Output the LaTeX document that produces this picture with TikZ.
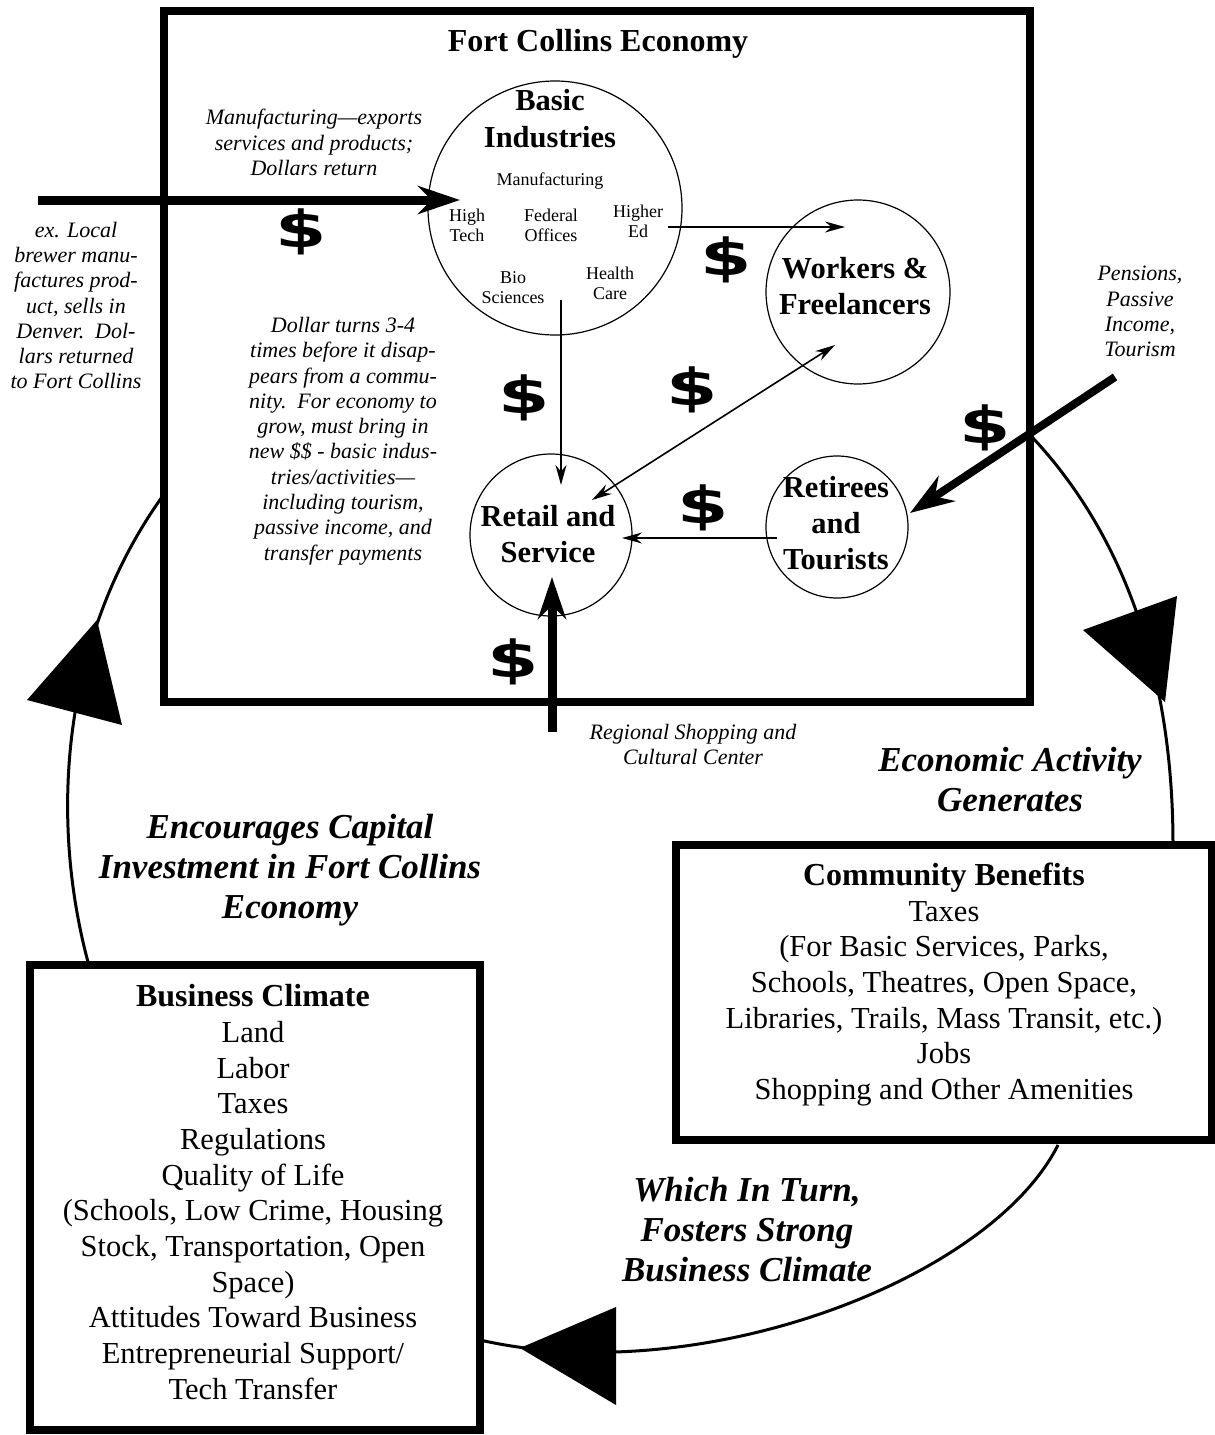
\documentclass[tikz,border=0pt]{standalone}
\usepackage{fontspec}
\setmainfont{Liberation Serif}
\newfontfamily\dollarfont{DejaVu Sans}
\usepackage{graphicx}
\usetikzlibrary{arrows.meta}
\begin{document}
\begin{tikzpicture}[x=1pt,y=-1pt,
  every node/.style={inner sep=0pt, outer sep=0pt},
  heavybox/.style={draw, line width=8pt},
  ring/.style={draw, circle, line width=1.2pt},
  ttl/.style={font=\fontsize{32}{37}\selectfont\bfseries, align=center},
  ctext/.style={font=\fontsize{30.5}{36}\selectfont\bfseries, align=center},
  itext/.style={font=\fontsize{22}{25.3}\selectfont\itshape, align=center},
  stext/.style={font=\fontsize{18}{20}\selectfont, align=center},
  btext/.style={font=\fontsize{30.5}{35.7}\selectfont, align=center},
  heading/.style={font=\fontsize{35}{40}\selectfont\bfseries\itshape, align=center},
  dollar/.style={font=\fontsize{51}{51}\selectfont\dollarfont\bfseries},
  flowarrow/.style={line width=1.6pt, -{Stealth[length=20pt,width=11pt]}},
  twoarrow/.style={line width=1.6pt, {Stealth[length=20pt,width=11pt]}-{Stealth[length=20pt,width=11pt]}},
  bigarrow/.style={line width=9pt, -{Stealth[length=42pt,width=28pt]}},
  cycleline/.style={line width=3pt},
  tri/.style={fill=black}
]
\useasboundingbox (0,0) rectangle (1215,1435);
\fill[white] (0,0) rectangle (1215,1435);

% main economy box
\node[heavybox, minimum width=866pt, minimum height=691pt] (economy) at (597,356.5) {};
\node[ttl] (title) at (598,44) {Fort Collins Economy};

% circles
\node[ring, minimum size=254pt] (basic) at (555,208) {};
\node[ring, minimum size=184pt] (workers) at (858,292) {};
\node[ring, minimum size=162pt] (retail) at (551,535) {};
\node[ring, minimum size=142pt] (retirees) at (837,527) {};

\node[font=\fontsize{30.5}{37}\selectfont\bfseries, align=center] (basicT) at (550,118.5) {Basic\\Industries};
\node[stext] (mfg) at (550,181) {Manufacturing};
\node[stext] (hightech) at (467,225) {High\\Tech};
\node[stext] (federal) at (551,225) {Federal\\Offices};
\node[stext] (highered) at (638,221.5) {Higher\\Ed};
\node[stext] (bio) at (513,288) {Bio\\Sciences};
\node[stext] (health) at (610,283) {Health\\Care};
\node[ctext] (workersT) at (855,286) {Workers \&\\Freelancers};
\node[ctext] (retailT) at (548,534) {Retail and\\Service};
\node[ctext] (retireesT) at (836,523.5) {Retirees\\and\\Tourists};

% small italic notes
\node[itext] (mfgnote) at (314,142.5) {Manufacturing---exports\\services and products;\\Dollars return};
\node[itext] (brewer) at (76,305.5) {ex. Local\\brewer manu-\\factures prod-\\uct, sells in\\Denver.~~Dol-\\lars returned\\to Fort Collins};
\node[itext] (dollarturns) at (343,441) {Dollar turns 3-4\\times before it disap-\\pears from a commu-\\nity.~~For economy to\\grow, must bring in\\new \$\$ - basic indus-\\tries/activities---\\including tourism,\\passive income, and\\transfer payments};
\node[itext] (pensions) at (1140,311.5) {Pensions,\\Passive\\Income,\\Tourism};
\node[itext] (regional) at (693,744.5) {Regional Shopping and\\Cultural Center};

% dollar signs
\node[dollar] (d1) at (301,232) {\scalebox{1.45}[1]{\$}};
\node[dollar] (d2) at (726,260) {\scalebox{1.45}[1]{\$}};
\node[dollar] (d3) at (524,398) {\scalebox{1.45}[1]{\$}};
\node[dollar] (d4) at (692,390) {\scalebox{1.45}[1]{\$}};
\node[dollar] (d5) at (703,508) {\scalebox{1.45}[1]{\$}};
\node[dollar] (d6) at (513,662) {\scalebox{1.45}[1]{\$}};
\node[dollar] (d7) at (985,428) {\scalebox{1.45}[1]{\$}};

% flow arrows
\coordinate (exportS) at (38,200);
\coordinate (exportE) at (460,200);
\draw[bigarrow] (exportS) -- (exportE);
\coordinate (wageS) at (668,227);
\coordinate (wageE) at (845,227);
\draw[flowarrow] (wageS) -- (wageE);
\coordinate (spendS) at (561,300);
\coordinate (spendE) at (561,485);
\draw[flowarrow] (spendS) -- (spendE);
\coordinate (retW) at (592,500);
\coordinate (wrkR) at (835,345);
\draw[twoarrow] (retW) -- (wrkR);
\coordinate (touS) at (777,538);
\coordinate (touE) at (622,538);
\draw[flowarrow] (touS) -- (touE);
\coordinate (regS) at (552,732);
\coordinate (regE) at (552,577);
\draw[bigarrow] (regS) -- (regE);
\coordinate (penS) at (1115,377);
\coordinate (penE) at (910,513);
\draw[line width=8pt, -{Stealth[length=44pt,width=30pt]}] (penS) -- (penE);

% lower boxes
\node[heavybox, minimum width=536pt, minimum height=295pt] (comm) at (944,992.5) {};
\node[btext] (commT) at (944,984.5) {{\fontsize{32}{35.7}\selectfont\bfseries Community Benefits}\\Taxes\\(For Basic Services, Parks,\\Schools, Theatres, Open Space,\\Libraries, Trails, Mass Transit, etc.)\\Jobs\\Shopping and Other Amenities};
\node[heavybox, minimum width=450pt, minimum height=465pt] (biz) at (255,1197.5) {};
\node[btext] (bizT) at (253,1192) {{\fontsize{32}{35.7}\selectfont\bfseries Business Climate}\\Land\\Labor\\Taxes\\Regulations\\Quality of Life\\(Schools, Low Crime, Housing\\Stock, Transportation, Open\\Space)\\Attitudes Toward Business\\Entrepreneurial Support/\\Tech Transfer};

% headings
\node[heading] (econact) at (1010,780) {Economic Activity\\Generates};
\node[heading] (encourages) at (290,870) {Encourages Capital\\Investment in Fort Collins\\Economy};
\node[heading] (whichturn) at (747,1230) {Which In Turn,\\Fosters Strong\\Business Climate};

% cycle
\coordinate (c1s) at (1032,437);
\coordinate (c1e) at (1173,845);
\draw[cycleline] (c1s) .. controls (1110,520) and (1173,650) .. (c1e);
\fill[tri] (1083,630) -- (1177,596) -- (1165,702) -- cycle;
\coordinate (c2s) at (1058,1145);
\coordinate (c2e) at (480,1340);
\draw[cycleline] (c2s) .. controls (990,1280) and (700,1390) .. (c2e);
\fill[tri] (616,1307) -- (616,1405) -- (520,1348) -- cycle;
\coordinate (c3s) at (88,962);
\coordinate (c3e) at (162,497);
\draw[cycleline] (c3s) .. controls (50,820) and (60,640) .. (c3e);
\fill[tri] (97,620) -- (27,700) -- (122,725) -- cycle;
\end{tikzpicture}
\end{document}
